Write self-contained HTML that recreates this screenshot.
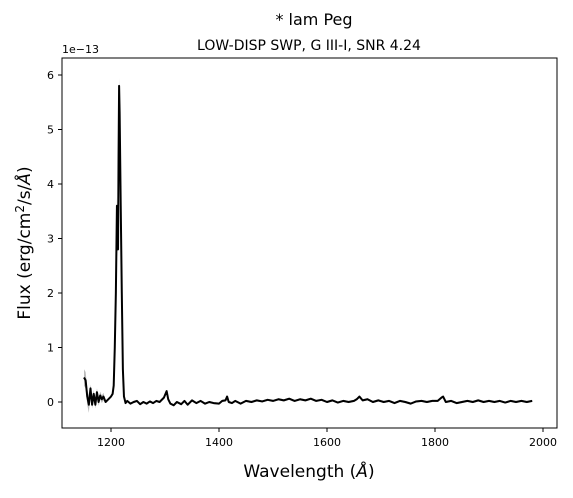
<!DOCTYPE html>
<html><head><meta charset="utf-8"><style>
body{margin:0;background:#fff;font-family:"Liberation Sans","DejaVu Sans",sans-serif;}
svg text{font-family:"DejaVu Sans","Liberation Sans",sans-serif;}
</style></head><body>
<svg id="c" width="573" height="493">
<text x="314" y="25" text-anchor="middle" font-size="16">* lam Peg</text>
<text x="309" y="50" text-anchor="middle" font-size="14">LOW-DISP SWP, G III-I, SNR 4.24</text>
<text x="62" y="53" font-size="11">1e−13</text>
<text x="309" y="477" text-anchor="middle" font-size="17">Wavelength (<tspan font-style="italic">Å</tspan>)</text>
<text transform="translate(30,243) rotate(-90)" text-anchor="middle" font-size="17">Flux (erg/cm<tspan dy="-6" font-size="12">2</tspan><tspan dy="6">/s/</tspan><tspan font-style="italic">Å</tspan>)</text>
<g id="marks"></g>
<rect x="62" y="58" width="495" height="370" fill="none" stroke="#000" stroke-width="1"/>
<g id="axes"></g>
</svg>
<script>
const wavelengths=[1150,1153,1156,1159,1162,1165,1168,1171,1174,1177,1180,1183,1186,1190,1195,1200,1203,1205,1207,1209,1211,1212,1213,1214,1215,1216,1218,1220,1222,1224,1227,1230,1236,1242,1248,1254,1260,1266,1272,1278,1284,1290,1298,1303,1306,1310,1316,1322,1330,1336,1342,1350,1358,1366,1374,1382,1390,1400,1406,1412,1415,1418,1424,1430,1440,1450,1460,1470,1480,1490,1500,1510,1520,1530,1540,1550,1560,1570,1580,1590,1600,1610,1620,1630,1640,1650,1655,1660,1666,1675,1685,1695,1705,1715,1725,1735,1745,1755,1765,1775,1785,1795,1805,1812,1815,1820,1830,1840,1850,1860,1870,1880,1890,1900,1910,1920,1930,1940,1950,1960,1970,1980];
const flux=[0.45,0.4,0.1,-0.05,0.25,-0.05,0.15,-0.05,0.18,0.0,0.12,0.05,0.1,0.0,0.05,0.1,0.15,0.3,1.0,2.0,3.6,3.3,2.8,4.5,5.8,5.3,3.6,2.0,0.6,0.1,-0.02,0.02,-0.03,0.0,0.02,-0.04,0.0,-0.03,0.01,-0.02,0.02,0.0,0.08,0.2,0.05,-0.03,-0.06,0.0,-0.04,0.02,-0.05,0.03,-0.02,0.02,-0.03,0.0,-0.02,-0.03,0.02,0.03,0.1,0.0,-0.02,0.02,-0.03,0.02,0.0,0.03,0.01,0.04,0.02,0.05,0.03,0.06,0.02,0.05,0.03,0.06,0.02,0.04,0.0,0.03,-0.01,0.02,0.0,0.02,0.05,0.1,0.03,0.05,0.0,0.03,0.0,0.02,-0.02,0.02,0.0,-0.03,0.01,0.02,0.0,0.02,0.02,0.08,0.1,0.0,0.02,-0.02,0.0,0.02,0.0,0.03,0.0,0.02,0.0,0.02,-0.01,0.02,0.0,0.02,0.0,0.02];
const errors=flux.map((f,i)=>{const w=wavelengths[i];return w<1160?0.15:(w<1190?0.07:(w>1205&&w<1222?0.15:0.02));});
const xTicks=[1200,1400,1600,1800,2000];
const yTicks=[0,1,2,3,4,5,6];
const X=w=>111+(w-1200)*0.54;
const Y=v=>402-v*54.5;
const NS='http://www.w3.org/2000/svg';
const marks=document.getElementById('marks');
let up=wavelengths.map((w,i)=>X(w)+','+Y(flux[i]+errors[i]));
let dn=wavelengths.map((w,i)=>X(w)+','+Y(flux[i]-errors[i])).reverse();
const band=document.createElementNS(NS,'polygon');
band.setAttribute('points',up.concat(dn).join(' '));
band.setAttribute('fill','#bbb');


marks.appendChild(band);
const line=document.createElementNS(NS,'polyline');
line.setAttribute('points',wavelengths.map((w,i)=>X(w)+','+Y(flux[i])).join(' '));
line.setAttribute('fill','none');line.setAttribute('stroke','#000');line.setAttribute('stroke-width','2');
line.setAttribute('stroke-linejoin','round');


marks.appendChild(line);
const axes=document.getElementById('axes');
xTicks.forEach(t=>{
 const g=document.createElementNS(NS,'g');
 
 
 g.innerHTML=`<line x1="${X(t)}" x2="${X(t)}" y1="428" y2="432" stroke="#000"/><text x="${X(t)}" y="446" text-anchor="middle" font-size="11">${t}</text>`;
 axes.appendChild(g);
});
yTicks.forEach(t=>{
 const g=document.createElementNS(NS,'g');
 
 
 g.innerHTML=`<line x1="58" x2="62" y1="${Y(t)}" y2="${Y(t)}" stroke="#000"/><text x="54" y="${Y(t)+4}" text-anchor="end" font-size="11">${t}</text>`;
 axes.appendChild(g);
});
</script>
</body></html>
